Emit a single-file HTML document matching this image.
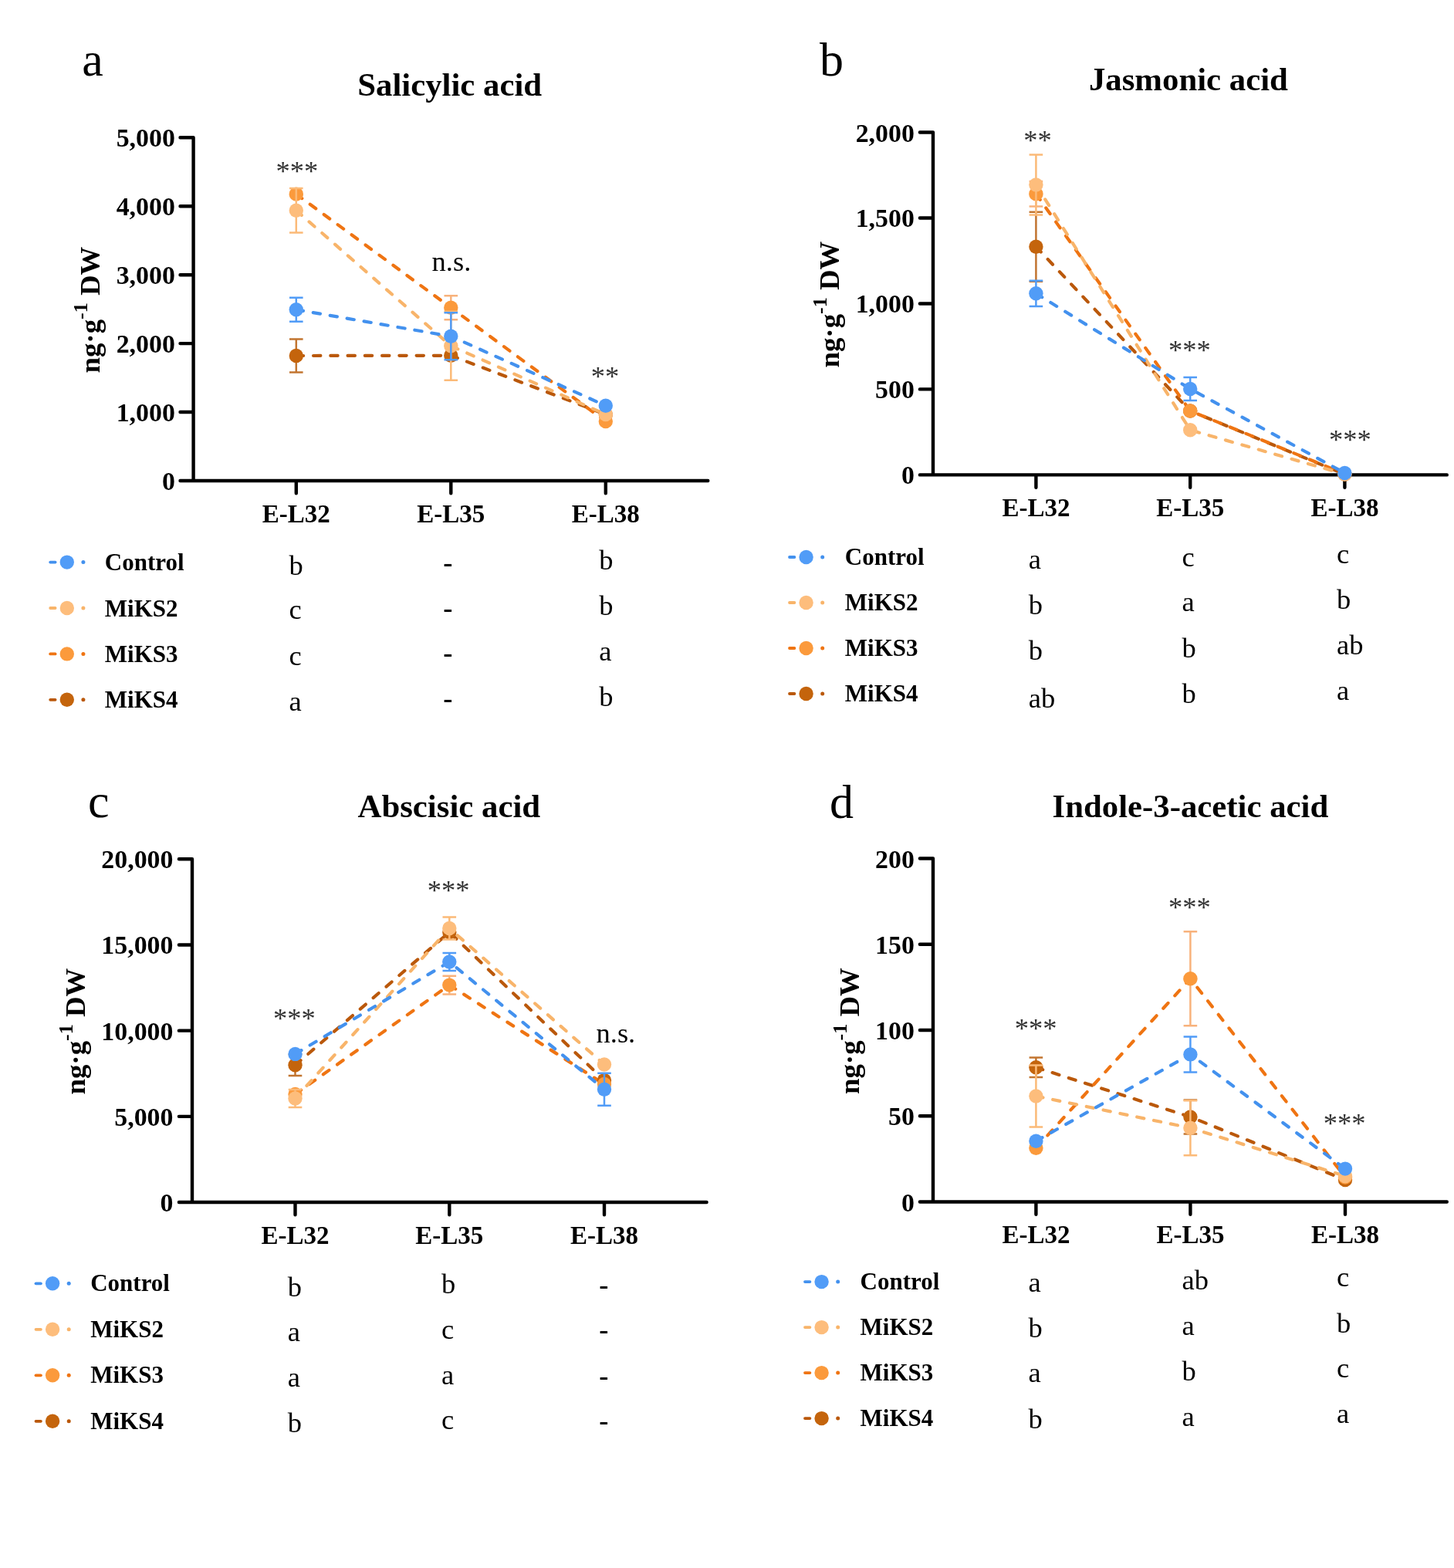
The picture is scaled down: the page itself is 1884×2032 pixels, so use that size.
<!DOCTYPE html>
<html><head><meta charset="utf-8"><title>Plant hormone levels</title>
<style>
html,body{margin:0;padding:0;background:#fff;}
body{width:1884px;height:2032px;overflow:hidden;}
svg{display:block;}
text{font-family:"Liberation Serif", "Times New Roman", serif;fill:#000;}
.b{font-weight:bold;}
.r{font-weight:normal;}
.st{font-weight:normal;fill:#333;}
</style></head>
<body>
<svg width="1884" height="2032" viewBox="0 0 1884 2032">
<rect width="1884" height="2032" fill="#fff"/>
<g id="pa">
<text x="106.3" y="97.7" font-size="62.0" class="r">a</text>
<text x="463.2" y="123.8" font-size="42.8" class="b">Salicylic acid</text>
<path d="M233.5 178.3H250.6V623M233.5 623H917.3M233.5 534.06H250.6M233.5 445.12H250.6M233.5 356.18H250.6M233.5 267.24H250.6M383.8 623V639.3M584.3 623V639.3M784.8 623V639.3" stroke="#000" stroke-width="4.4" fill="none" stroke-linecap="round" stroke-linejoin="round"/>
<text transform="translate(226.9 635) scale(0.988 1)" font-size="34.3" class="b" text-anchor="end">0</text>
<text transform="translate(226.9 546.06) scale(0.988 1)" font-size="34.3" class="b" text-anchor="end">1,000</text>
<text transform="translate(226.9 457.12) scale(0.988 1)" font-size="34.3" class="b" text-anchor="end">2,000</text>
<text transform="translate(226.9 368.18) scale(0.988 1)" font-size="34.3" class="b" text-anchor="end">3,000</text>
<text transform="translate(226.9 279.24) scale(0.988 1)" font-size="34.3" class="b" text-anchor="end">4,000</text>
<text transform="translate(226.9 190.3) scale(0.988 1)" font-size="34.3" class="b" text-anchor="end">5,000</text>
<text transform="translate(383.8 676.6) scale(0.963 1)" font-size="34.3" class="b" text-anchor="middle">E-L32</text>
<text transform="translate(584.3 676.6) scale(0.963 1)" font-size="34.3" class="b" text-anchor="middle">E-L35</text>
<text transform="translate(784.8 676.6) scale(0.963 1)" font-size="34.3" class="b" text-anchor="middle">E-L38</text>
<text transform="translate(129 401.6) rotate(-90)" x="0" y="0" font-size="36.8" class="b" text-anchor="middle">ng·g<tspan font-size="26" dy="-16">-1</tspan><tspan dy="16"> DW</tspan></text>
<path d="M383.8 461 L584.3 460.8 L784.8 537" stroke="#BA580A" stroke-width="4.2" fill="none" stroke-dasharray="9.3 12.96" stroke-linecap="round"/>
<path d="M383.8 251.6 L584.3 398.7 L784.8 546" stroke="#EF7412" stroke-width="4.2" fill="none" stroke-dasharray="9.3 12.96" stroke-linecap="round"/>
<path d="M383.8 272.7 L584.3 448.3 L784.8 537" stroke="#F8B46A" stroke-width="4.2" fill="none" stroke-dasharray="9.3 12.96" stroke-linecap="round"/>
<path d="M383.8 401.3 L584.3 435.8 L784.8 525.7" stroke="#4391EE" stroke-width="4.2" fill="none" stroke-dasharray="9.3 12.96" stroke-linecap="round"/>
<path d="M383.8 439.5V482.5M375 439.5H392.6M375 482.5H392.6" stroke="#C27530" stroke-width="2.5" fill="none"/>
<circle cx="383.8" cy="461" r="9.2" fill="#C4640C"/>
<circle cx="584.3" cy="460.8" r="9.2" fill="#C4640C"/>
<circle cx="784.8" cy="537" r="9.2" fill="#C4640C"/>
<path d="M584.3 383.2V414.2M575.5 383.2H593.1M575.5 414.2H593.1" stroke="#F8B27C" stroke-width="2.5" fill="none"/>
<circle cx="383.8" cy="251.6" r="9.2" fill="#FB9A3C"/>
<circle cx="584.3" cy="398.7" r="9.2" fill="#FB9A3C"/>
<circle cx="784.8" cy="546" r="9.2" fill="#FB9A3C"/>
<path d="M383.8 243.9V301.5M375 243.9H392.6M375 301.5H392.6M584.3 403.8V492.8M575.5 403.8H593.1M575.5 492.8H593.1" stroke="#FBBA78" stroke-width="2.5" fill="none"/>
<circle cx="383.8" cy="272.7" r="9.2" fill="#FDBD7C"/>
<circle cx="584.3" cy="448.3" r="9.2" fill="#FDBD7C"/>
<circle cx="784.8" cy="537" r="9.2" fill="#FDBD7C"/>
<path d="M383.8 385.8V416.8M375 385.8H392.6M375 416.8H392.6M584.3 405.3V466.3M575.5 405.3H593.1M575.5 466.3H593.1" stroke="#519CF7" stroke-width="2.5" fill="none"/>
<circle cx="383.8" cy="401.3" r="9.2" fill="#519CF7"/>
<circle cx="584.3" cy="435.8" r="9.2" fill="#519CF7"/>
<circle cx="784.8" cy="525.7" r="9.2" fill="#519CF7"/>
<text x="357.4" y="234" font-size="36.5" class="st">***</text>
<text x="559.6" y="351.3" font-size="36.5" class="r">n.s.</text>
<text x="765.8" y="500.3" font-size="36.5" class="st">**</text>
<path d="M65.2 728.6H71.6" stroke="#4391EE" stroke-width="3.8" stroke-linecap="round" fill="none"/>
<circle cx="107.9" cy="728.6" r="2.5" fill="#4391EE"/>
<circle cx="86.8" cy="728.6" r="9.2" fill="#519CF7"/>
<text x="135.8" y="739.1" font-size="31.0" class="b">Control</text>
<path d="M65.2 788H71.6" stroke="#F8B46A" stroke-width="3.8" stroke-linecap="round" fill="none"/>
<circle cx="107.9" cy="788" r="2.5" fill="#F8B46A"/>
<circle cx="86.8" cy="788" r="9.2" fill="#FDBD7C"/>
<text x="135.8" y="798.5" font-size="31.0" class="b">MiKS2</text>
<path d="M65.2 847.4H71.6" stroke="#EF7412" stroke-width="3.8" stroke-linecap="round" fill="none"/>
<circle cx="107.9" cy="847.4" r="2.5" fill="#EF7412"/>
<circle cx="86.8" cy="847.4" r="9.2" fill="#FB9A3C"/>
<text x="135.8" y="857.9" font-size="31.0" class="b">MiKS3</text>
<path d="M65.2 906.8H71.6" stroke="#BA580A" stroke-width="3.8" stroke-linecap="round" fill="none"/>
<circle cx="107.9" cy="906.8" r="2.5" fill="#BA580A"/>
<circle cx="86.8" cy="906.8" r="9.2" fill="#C4640C"/>
<text x="135.8" y="917.3" font-size="31.0" class="b">MiKS4</text>
<text x="374.5" y="744.6" font-size="36.5" class="r">b</text>
<text x="374.5" y="802.4" font-size="36.5" class="r">c</text>
<text x="374.5" y="861.7" font-size="36.5" class="r">c</text>
<text x="374.5" y="920.6" font-size="36.5" class="r">a</text>
<text x="574.3" y="741" font-size="36.5" class="b">-</text>
<text x="574.3" y="800.1" font-size="36.5" class="b">-</text>
<text x="574.3" y="858.4" font-size="36.5" class="b">-</text>
<text x="574.3" y="916.8" font-size="36.5" class="b">-</text>
<text x="776.2" y="737.6" font-size="36.5" class="r">b</text>
<text x="776.2" y="796.8" font-size="36.5" class="r">b</text>
<text x="776.2" y="855.5" font-size="36.5" class="r">a</text>
<text x="776.2" y="914.6" font-size="36.5" class="r">b</text>
</g>
<g id="pb">
<text x="1062" y="98.1" font-size="62.0" class="r">b</text>
<text x="1410.9" y="117.1" font-size="42.8" class="b">Jasmonic acid</text>
<path d="M1191.9 171.5H1209V615.4M1191.9 615.4H1874.8M1191.9 504.42H1209M1191.9 393.45H1209M1191.9 282.48H1209M1342.4 615.4V631.7M1542.2 615.4V631.7M1742.4 615.4V631.7" stroke="#000" stroke-width="4.4" fill="none" stroke-linecap="round" stroke-linejoin="round"/>
<text transform="translate(1184.9 627.4) scale(0.988 1)" font-size="34.3" class="b" text-anchor="end">0</text>
<text transform="translate(1184.9 516.42) scale(0.988 1)" font-size="34.3" class="b" text-anchor="end">500</text>
<text transform="translate(1184.9 405.45) scale(0.988 1)" font-size="34.3" class="b" text-anchor="end">1,000</text>
<text transform="translate(1184.9 294.48) scale(0.988 1)" font-size="34.3" class="b" text-anchor="end">1,500</text>
<text transform="translate(1184.9 183.5) scale(0.988 1)" font-size="34.3" class="b" text-anchor="end">2,000</text>
<text transform="translate(1342.4 668.6) scale(0.963 1)" font-size="34.3" class="b" text-anchor="middle">E-L32</text>
<text transform="translate(1542.2 668.6) scale(0.963 1)" font-size="34.3" class="b" text-anchor="middle">E-L35</text>
<text transform="translate(1742.4 668.6) scale(0.963 1)" font-size="34.3" class="b" text-anchor="middle">E-L38</text>
<text transform="translate(1087.1 394.6) rotate(-90)" x="0" y="0" font-size="36.8" class="b" text-anchor="middle">ng·g<tspan font-size="26" dy="-16">-1</tspan><tspan dy="16"> DW</tspan></text>
<path d="M1342.4 319.7 L1542.2 532.5 L1742.4 614.5" stroke="#BA580A" stroke-width="4.2" fill="none" stroke-dasharray="9.3 12.96" stroke-linecap="round"/>
<path d="M1342.4 251.3 L1542.2 532.5 L1742.4 614" stroke="#EF7412" stroke-width="4.2" fill="none" stroke-dasharray="9.3 12.96" stroke-linecap="round"/>
<path d="M1342.4 239.5 L1542.2 557.3 L1742.4 614.5" stroke="#F8B46A" stroke-width="4.2" fill="none" stroke-dasharray="9.3 12.96" stroke-linecap="round"/>
<path d="M1342.4 380.3 L1542.2 504 L1742.4 613" stroke="#4391EE" stroke-width="4.2" fill="none" stroke-dasharray="9.3 12.96" stroke-linecap="round"/>
<path d="M1342.4 274.7V364.7M1333.6 274.7H1351.2M1333.6 364.7H1351.2" stroke="#C27530" stroke-width="2.5" fill="none"/>
<circle cx="1342.4" cy="319.7" r="9.2" fill="#C4640C"/>
<circle cx="1542.2" cy="532.5" r="9.2" fill="#C4640C"/>
<circle cx="1742.4" cy="614.5" r="9.2" fill="#C4640C"/>
<path d="M1342.4 235V267.6M1333.6 235H1351.2M1333.6 267.6H1351.2" stroke="#F8B27C" stroke-width="2.5" fill="none"/>
<circle cx="1342.4" cy="251.3" r="9.2" fill="#FB9A3C"/>
<circle cx="1542.2" cy="532.5" r="9.2" fill="#FB9A3C"/>
<circle cx="1742.4" cy="614" r="9.2" fill="#FB9A3C"/>
<path d="M1342.4 200.5V278.5M1333.6 200.5H1351.2M1333.6 278.5H1351.2" stroke="#FBBA78" stroke-width="2.5" fill="none"/>
<circle cx="1342.4" cy="239.5" r="9.2" fill="#FDBD7C"/>
<circle cx="1542.2" cy="557.3" r="9.2" fill="#FDBD7C"/>
<circle cx="1742.4" cy="614.5" r="9.2" fill="#FDBD7C"/>
<path d="M1342.4 363.7V396.9M1333.6 363.7H1351.2M1333.6 396.9H1351.2M1542.2 488.9V519.1M1533.4 488.9H1551M1533.4 519.1H1551" stroke="#519CF7" stroke-width="2.5" fill="none"/>
<circle cx="1342.4" cy="380.3" r="9.2" fill="#519CF7"/>
<circle cx="1542.2" cy="504" r="9.2" fill="#519CF7"/>
<circle cx="1742.4" cy="613" r="9.2" fill="#519CF7"/>
<text x="1326.2" y="193.5" font-size="36.5" class="st">**</text>
<text x="1513.9" y="465.8" font-size="36.5" class="st">***</text>
<text x="1722.1" y="581.6" font-size="36.5" class="st">***</text>
<path d="M1023 722H1029.4" stroke="#4391EE" stroke-width="3.8" stroke-linecap="round" fill="none"/>
<circle cx="1065.7" cy="722" r="2.5" fill="#4391EE"/>
<circle cx="1044.6" cy="722" r="9.2" fill="#519CF7"/>
<text x="1094.8" y="732" font-size="31.0" class="b">Control</text>
<path d="M1023 781H1029.4" stroke="#F8B46A" stroke-width="3.8" stroke-linecap="round" fill="none"/>
<circle cx="1065.7" cy="781" r="2.5" fill="#F8B46A"/>
<circle cx="1044.6" cy="781" r="9.2" fill="#FDBD7C"/>
<text x="1094.8" y="791" font-size="31.0" class="b">MiKS2</text>
<path d="M1023 840H1029.4" stroke="#EF7412" stroke-width="3.8" stroke-linecap="round" fill="none"/>
<circle cx="1065.7" cy="840" r="2.5" fill="#EF7412"/>
<circle cx="1044.6" cy="840" r="9.2" fill="#FB9A3C"/>
<text x="1094.8" y="850" font-size="31.0" class="b">MiKS3</text>
<path d="M1023 899H1029.4" stroke="#BA580A" stroke-width="3.8" stroke-linecap="round" fill="none"/>
<circle cx="1065.7" cy="899" r="2.5" fill="#BA580A"/>
<circle cx="1044.6" cy="899" r="9.2" fill="#C4640C"/>
<text x="1094.8" y="909" font-size="31.0" class="b">MiKS4</text>
<text x="1332.8" y="737.1" font-size="36.5" class="r">a</text>
<text x="1332.8" y="795.5" font-size="36.5" class="r">b</text>
<text x="1332.8" y="854.9" font-size="36.5" class="r">b</text>
<text x="1332.8" y="917" font-size="36.5" class="r">ab</text>
<text x="1531.5" y="734" font-size="36.5" class="r">c</text>
<text x="1531.5" y="792.3" font-size="36.5" class="r">a</text>
<text x="1531.5" y="851.6" font-size="36.5" class="r">b</text>
<text x="1531.5" y="911.1" font-size="36.5" class="r">b</text>
<text x="1732" y="730.4" font-size="36.5" class="r">c</text>
<text x="1732" y="789.2" font-size="36.5" class="r">b</text>
<text x="1732" y="848" font-size="36.5" class="r">ab</text>
<text x="1732" y="907.1" font-size="36.5" class="r">a</text>
</g>
<g id="pc">
<text x="114.1" y="1059.4" font-size="62.0" class="r">c</text>
<text x="463.5" y="1058.8" font-size="42.8" class="b">Abscisic acid</text>
<path d="M231.9 1113.3H249V1558M231.9 1558H915.6M231.9 1446.83H249M231.9 1335.65H249M231.9 1224.47H249M382.5 1558V1574.3M582.3 1558V1574.3M783 1558V1574.3" stroke="#000" stroke-width="4.4" fill="none" stroke-linecap="round" stroke-linejoin="round"/>
<text transform="translate(224.5 1570) scale(0.988 1)" font-size="34.3" class="b" text-anchor="end">0</text>
<text transform="translate(224.5 1458.83) scale(0.988 1)" font-size="34.3" class="b" text-anchor="end">5,000</text>
<text transform="translate(224.5 1347.65) scale(0.988 1)" font-size="34.3" class="b" text-anchor="end">10,000</text>
<text transform="translate(224.5 1236.47) scale(0.988 1)" font-size="34.3" class="b" text-anchor="end">15,000</text>
<text transform="translate(224.5 1125.3) scale(0.988 1)" font-size="34.3" class="b" text-anchor="end">20,000</text>
<text transform="translate(382.5 1611.6) scale(0.963 1)" font-size="34.3" class="b" text-anchor="middle">E-L32</text>
<text transform="translate(582.3 1611.6) scale(0.963 1)" font-size="34.3" class="b" text-anchor="middle">E-L35</text>
<text transform="translate(783 1611.6) scale(0.963 1)" font-size="34.3" class="b" text-anchor="middle">E-L38</text>
<text transform="translate(110.1 1336.6) rotate(-90)" x="0" y="0" font-size="36.8" class="b" text-anchor="middle">ng·g<tspan font-size="26" dy="-16">-1</tspan><tspan dy="16"> DW</tspan></text>
<path d="M382.5 1380.3 L582.3 1208 L783 1400" stroke="#BA580A" stroke-width="4.2" fill="none" stroke-dasharray="9.3 12.96" stroke-linecap="round"/>
<path d="M382.5 1418 L582.3 1276.6 L783 1405" stroke="#EF7412" stroke-width="4.2" fill="none" stroke-dasharray="9.3 12.96" stroke-linecap="round"/>
<path d="M382.5 1423.5 L582.3 1203 L783 1379.5" stroke="#F8B46A" stroke-width="4.2" fill="none" stroke-dasharray="9.3 12.96" stroke-linecap="round"/>
<path d="M382.5 1365.9 L582.3 1246.5 L783 1411.8" stroke="#4391EE" stroke-width="4.2" fill="none" stroke-dasharray="9.3 12.96" stroke-linecap="round"/>
<path d="M382.5 1366.6V1394M373.7 1366.6H391.3M373.7 1394H391.3" stroke="#C27530" stroke-width="2.5" fill="none"/>
<circle cx="382.5" cy="1380.3" r="9.2" fill="#C4640C"/>
<circle cx="582.3" cy="1208" r="9.2" fill="#C4640C"/>
<circle cx="783" cy="1400" r="9.2" fill="#C4640C"/>
<path d="M582.3 1264.8V1288.4M573.5 1264.8H591.1M573.5 1288.4H591.1" stroke="#F8B27C" stroke-width="2.5" fill="none"/>
<circle cx="382.5" cy="1418" r="9.2" fill="#FB9A3C"/>
<circle cx="582.3" cy="1276.6" r="9.2" fill="#FB9A3C"/>
<circle cx="783" cy="1405" r="9.2" fill="#FB9A3C"/>
<path d="M382.5 1412V1435M373.7 1412H391.3M373.7 1435H391.3M582.3 1188.5V1217.5M573.5 1188.5H591.1M573.5 1217.5H591.1" stroke="#FBBA78" stroke-width="2.5" fill="none"/>
<circle cx="382.5" cy="1423.5" r="9.2" fill="#FDBD7C"/>
<circle cx="582.3" cy="1203" r="9.2" fill="#FDBD7C"/>
<circle cx="783" cy="1379.5" r="9.2" fill="#FDBD7C"/>
<path d="M582.3 1235V1258M573.5 1235H591.1M573.5 1258H591.1M783 1390.8V1432.8M774.2 1390.8H791.8M774.2 1432.8H791.8" stroke="#519CF7" stroke-width="2.5" fill="none"/>
<circle cx="382.5" cy="1365.9" r="9.2" fill="#519CF7"/>
<circle cx="582.3" cy="1246.5" r="9.2" fill="#519CF7"/>
<circle cx="783" cy="1411.8" r="9.2" fill="#519CF7"/>
<text x="353.9" y="1331.8" font-size="36.5" class="st">***</text>
<text x="553.8" y="1166.3" font-size="36.5" class="st">***</text>
<text x="772.5" y="1350.7" font-size="36.5" class="r">n.s.</text>
<path d="M46.5 1663.3H52.9" stroke="#4391EE" stroke-width="3.8" stroke-linecap="round" fill="none"/>
<circle cx="89.2" cy="1663.3" r="2.5" fill="#4391EE"/>
<circle cx="68.1" cy="1663.3" r="9.2" fill="#519CF7"/>
<text x="117.2" y="1673.2" font-size="31.0" class="b">Control</text>
<path d="M46.5 1722.8H52.9" stroke="#F8B46A" stroke-width="3.8" stroke-linecap="round" fill="none"/>
<circle cx="89.2" cy="1722.8" r="2.5" fill="#F8B46A"/>
<circle cx="68.1" cy="1722.8" r="9.2" fill="#FDBD7C"/>
<text x="117.2" y="1732.7" font-size="31.0" class="b">MiKS2</text>
<path d="M46.5 1782.3H52.9" stroke="#EF7412" stroke-width="3.8" stroke-linecap="round" fill="none"/>
<circle cx="89.2" cy="1782.3" r="2.5" fill="#EF7412"/>
<circle cx="68.1" cy="1782.3" r="9.2" fill="#FB9A3C"/>
<text x="117.2" y="1792.2" font-size="31.0" class="b">MiKS3</text>
<path d="M46.5 1841.8H52.9" stroke="#BA580A" stroke-width="3.8" stroke-linecap="round" fill="none"/>
<circle cx="89.2" cy="1841.8" r="2.5" fill="#BA580A"/>
<circle cx="68.1" cy="1841.8" r="9.2" fill="#C4640C"/>
<text x="117.2" y="1851.7" font-size="31.0" class="b">MiKS4</text>
<text x="372.7" y="1679.8" font-size="36.5" class="r">b</text>
<text x="372.7" y="1738" font-size="36.5" class="r">a</text>
<text x="372.7" y="1796.7" font-size="36.5" class="r">a</text>
<text x="372.7" y="1855.9" font-size="36.5" class="r">b</text>
<text x="572" y="1676.3" font-size="36.5" class="r">b</text>
<text x="572" y="1734.5" font-size="36.5" class="r">c</text>
<text x="572" y="1793.8" font-size="36.5" class="r">a</text>
<text x="572" y="1852.4" font-size="36.5" class="r">c</text>
<text x="776.2" y="1676.6" font-size="36.5" class="b">-</text>
<text x="776.2" y="1734.9" font-size="36.5" class="b">-</text>
<text x="776.2" y="1794.8" font-size="36.5" class="b">-</text>
<text x="776.2" y="1852.9" font-size="36.5" class="b">-</text>
</g>
<g id="pd">
<text x="1075" y="1059.6" font-size="62.0" class="r">d</text>
<text x="1363.5" y="1058.6" font-size="42.8" class="b">Indole-3-acetic acid</text>
<path d="M1191.9 1112.5H1209V1557.5M1191.9 1557.5H1874.8M1191.9 1446.25H1209M1191.9 1335H1209M1191.9 1223.75H1209M1342.4 1557.5V1573.8M1542.4 1557.5V1573.8M1743 1557.5V1573.8" stroke="#000" stroke-width="4.4" fill="none" stroke-linecap="round" stroke-linejoin="round"/>
<text transform="translate(1184.9 1569.5) scale(0.988 1)" font-size="34.3" class="b" text-anchor="end">0</text>
<text transform="translate(1184.9 1458.25) scale(0.988 1)" font-size="34.3" class="b" text-anchor="end">50</text>
<text transform="translate(1184.9 1347) scale(0.988 1)" font-size="34.3" class="b" text-anchor="end">100</text>
<text transform="translate(1184.9 1235.75) scale(0.988 1)" font-size="34.3" class="b" text-anchor="end">150</text>
<text transform="translate(1184.9 1124.5) scale(0.988 1)" font-size="34.3" class="b" text-anchor="end">200</text>
<text transform="translate(1342.4 1611) scale(0.963 1)" font-size="34.3" class="b" text-anchor="middle">E-L32</text>
<text transform="translate(1542.4 1611) scale(0.963 1)" font-size="34.3" class="b" text-anchor="middle">E-L35</text>
<text transform="translate(1743 1611) scale(0.963 1)" font-size="34.3" class="b" text-anchor="middle">E-L38</text>
<text transform="translate(1112.6 1336.1) rotate(-90)" x="0" y="0" font-size="36.8" class="b" text-anchor="middle">ng·g<tspan font-size="26" dy="-16">-1</tspan><tspan dy="16"> DW</tspan></text>
<path d="M1342.4 1383.3 L1542.4 1447.4 L1743 1529" stroke="#BA580A" stroke-width="4.2" fill="none" stroke-dasharray="9.3 12.96" stroke-linecap="round"/>
<path d="M1342.4 1487.8 L1542.4 1268.2 L1743 1525.5" stroke="#EF7412" stroke-width="4.2" fill="none" stroke-dasharray="9.3 12.96" stroke-linecap="round"/>
<path d="M1342.4 1420.5 L1542.4 1461.7 L1743 1524" stroke="#F8B46A" stroke-width="4.2" fill="none" stroke-dasharray="9.3 12.96" stroke-linecap="round"/>
<path d="M1342.4 1478.7 L1542.4 1366.4 L1743 1514.6" stroke="#4391EE" stroke-width="4.2" fill="none" stroke-dasharray="9.3 12.96" stroke-linecap="round"/>
<path d="M1342.4 1370.5V1396.1M1333.6 1370.5H1351.2M1333.6 1396.1H1351.2M1542.4 1425.4V1469.4M1533.6 1425.4H1551.2M1533.6 1469.4H1551.2" stroke="#C27530" stroke-width="2.5" fill="none"/>
<circle cx="1342.4" cy="1383.3" r="9.2" fill="#C4640C"/>
<circle cx="1542.4" cy="1447.4" r="9.2" fill="#C4640C"/>
<circle cx="1743" cy="1529" r="9.2" fill="#C4640C"/>
<path d="M1542.4 1207.2V1329.2M1533.6 1207.2H1551.2M1533.6 1329.2H1551.2" stroke="#F8B27C" stroke-width="2.5" fill="none"/>
<circle cx="1342.4" cy="1487.8" r="9.2" fill="#FB9A3C"/>
<circle cx="1542.4" cy="1268.2" r="9.2" fill="#FB9A3C"/>
<circle cx="1743" cy="1525.5" r="9.2" fill="#FB9A3C"/>
<path d="M1342.4 1380.5V1460.5M1333.6 1380.5H1351.2M1333.6 1460.5H1351.2M1542.4 1426.2V1497.2M1533.6 1426.2H1551.2M1533.6 1497.2H1551.2" stroke="#FBBA78" stroke-width="2.5" fill="none"/>
<circle cx="1342.4" cy="1420.5" r="9.2" fill="#FDBD7C"/>
<circle cx="1542.4" cy="1461.7" r="9.2" fill="#FDBD7C"/>
<circle cx="1743" cy="1524" r="9.2" fill="#FDBD7C"/>
<path d="M1542.4 1343.4V1389.4M1533.6 1343.4H1551.2M1533.6 1389.4H1551.2" stroke="#519CF7" stroke-width="2.5" fill="none"/>
<circle cx="1342.4" cy="1478.7" r="9.2" fill="#519CF7"/>
<circle cx="1542.4" cy="1366.4" r="9.2" fill="#519CF7"/>
<circle cx="1743" cy="1514.6" r="9.2" fill="#519CF7"/>
<text x="1314.8" y="1345.3" font-size="36.5" class="st">***</text>
<text x="1513.9" y="1188" font-size="36.5" class="st">***</text>
<text x="1714.7" y="1467.5" font-size="36.5" class="st">***</text>
<path d="M1043 1661.1H1049.4" stroke="#4391EE" stroke-width="3.8" stroke-linecap="round" fill="none"/>
<circle cx="1085.7" cy="1661.1" r="2.5" fill="#4391EE"/>
<circle cx="1064.6" cy="1661.1" r="9.2" fill="#519CF7"/>
<text x="1114.6" y="1671.1" font-size="31.0" class="b">Control</text>
<path d="M1043 1720.1H1049.4" stroke="#F8B46A" stroke-width="3.8" stroke-linecap="round" fill="none"/>
<circle cx="1085.7" cy="1720.1" r="2.5" fill="#F8B46A"/>
<circle cx="1064.6" cy="1720.1" r="9.2" fill="#FDBD7C"/>
<text x="1114.6" y="1730.1" font-size="31.0" class="b">MiKS2</text>
<path d="M1043 1779.1H1049.4" stroke="#EF7412" stroke-width="3.8" stroke-linecap="round" fill="none"/>
<circle cx="1085.7" cy="1779.1" r="2.5" fill="#EF7412"/>
<circle cx="1064.6" cy="1779.1" r="9.2" fill="#FB9A3C"/>
<text x="1114.6" y="1789.1" font-size="31.0" class="b">MiKS3</text>
<path d="M1043 1838.1H1049.4" stroke="#BA580A" stroke-width="3.8" stroke-linecap="round" fill="none"/>
<circle cx="1085.7" cy="1838.1" r="2.5" fill="#BA580A"/>
<circle cx="1064.6" cy="1838.1" r="9.2" fill="#C4640C"/>
<text x="1114.6" y="1848.1" font-size="31.0" class="b">MiKS4</text>
<text x="1332.5" y="1673.7" font-size="36.5" class="r">a</text>
<text x="1332.5" y="1732.7" font-size="36.5" class="r">b</text>
<text x="1332.5" y="1791.3" font-size="36.5" class="r">a</text>
<text x="1332.5" y="1851.1" font-size="36.5" class="r">b</text>
<text x="1531.5" y="1671.2" font-size="36.5" class="r">ab</text>
<text x="1531.5" y="1729.8" font-size="36.5" class="r">a</text>
<text x="1531.5" y="1789.2" font-size="36.5" class="r">b</text>
<text x="1531.5" y="1847.9" font-size="36.5" class="r">a</text>
<text x="1732" y="1667.2" font-size="36.5" class="r">c</text>
<text x="1732" y="1726.5" font-size="36.5" class="r">b</text>
<text x="1732" y="1785.4" font-size="36.5" class="r">c</text>
<text x="1732" y="1844.4" font-size="36.5" class="r">a</text>
</g>
</svg>
</body></html>
